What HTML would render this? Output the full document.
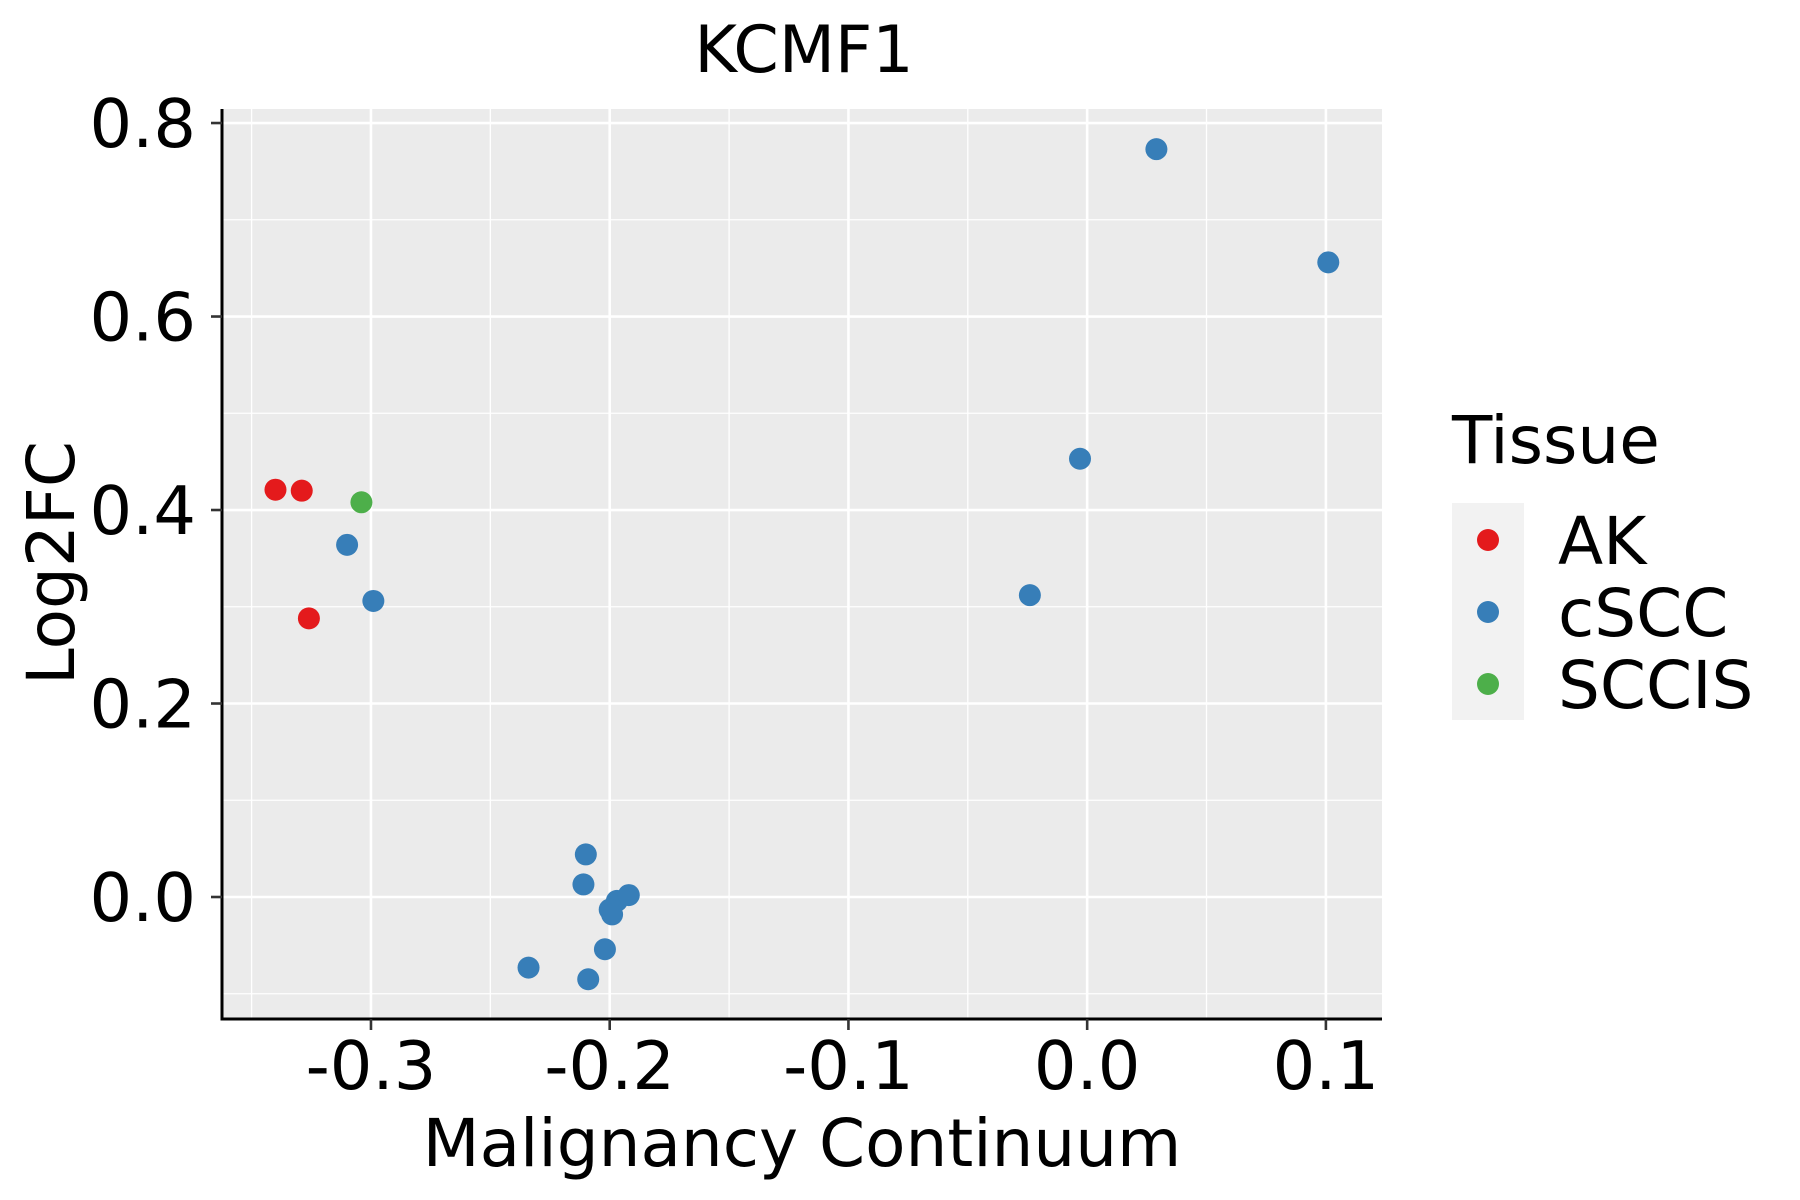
<!DOCTYPE html>
<html><head><meta charset="utf-8"><style>
body{margin:0;background:#fff;}
svg{display:block;font-family:"DejaVu Sans","Liberation Sans",sans-serif;}
</style></head><body>
<svg id="chart" width="1800" height="1200" viewBox="0 0 1800 1200">
<rect x="0" y="0" width="1800" height="1200" fill="#fff"/>
<g id="panel"></g>
<g id="points"></g>
<g id="axes"></g>
<text x="804" y="72" font-size="65" text-anchor="middle">KCMF1</text>
<text x="802" y="1166" font-size="66" text-anchor="middle">Malignancy Continuum</text>
<text transform="translate(74,563) rotate(-90)" font-size="66" text-anchor="middle">Log2FC</text>
<g>
<text x="1452" y="463" font-size="66">Tissue</text>
<rect x="1452" y="503" width="72" height="217" fill="#F2F2F2"/>
<g id="legend-items"></g>
</g>
</svg>
<script>
const categories = ["AK","cSCC","SCCIS"];
const colors = ["#E41A1C","#377EB8","#4DAF4A"];
const xValues = [-0.340,-0.329,-0.326,-0.304,-0.310,-0.299,0.029,0.101,-0.003,-0.024,-0.210,-0.211,-0.197,-0.192,-0.200,-0.199,-0.202,-0.234,-0.209];
const yValues = [0.421,0.420,0.288,0.408,0.364,0.306,0.773,0.656,0.453,0.312,0.044,0.013,-0.004,0.002,-0.013,-0.018,-0.054,-0.073,-0.085];
const groups = ["AK","AK","AK","SCCIS","cSCC","cSCC","cSCC","cSCC","cSCC","cSCC","cSCC","cSCC","cSCC","cSCC","cSCC","cSCC","cSCC","cSCC","cSCC"];
const xTicks = [-0.3,-0.2,-0.1,0.0,0.1];
const xTickLabels = ["-0.3","-0.2","-0.1","0.0","0.1"];
const yTicks = [0.0,0.2,0.4,0.6,0.8];
const yTickLabels = ["0.0","0.2","0.4","0.6","0.8"];
const xMinor = [-0.35,-0.25,-0.15,-0.05,0.05];
const yMinor = [-0.1,0.1,0.3,0.5,0.7];

const L=222,R=1382,T=109,B=1019;
const xMin=-0.3624,xMax=0.1235,yMin=-0.1261,yMax=0.8145;
const sx=v=>L+(v-xMin)/(xMax-xMin)*(R-L);
const sy=v=>B-(v-yMin)/(yMax-yMin)*(B-T);
const NS="http://www.w3.org/2000/svg";
function mk(tag,attrs,parent){const e=document.createElementNS(NS,tag);for(const k in attrs)e.setAttribute(k,attrs[k]);parent.appendChild(e);return e;}
const panel=document.getElementById('panel');
let bg=mk('rect',{x:L,y:T,width:R-L,height:B-T,fill:'#EBEBEB'},panel);


xMinor.forEach(v=>{const l=mk('line',{x1:sx(v),x2:sx(v),y1:T,y2:B,stroke:'#fff','stroke-width':1.3},panel);

});
yMinor.forEach(v=>{const l=mk('line',{x1:L,x2:R,y1:sy(v),y2:sy(v),stroke:'#fff','stroke-width':1.3},panel);

});
xTicks.forEach(v=>{const l=mk('line',{x1:sx(v),x2:sx(v),y1:T,y2:B,stroke:'#fff','stroke-width':2.6},panel);

});
yTicks.forEach(v=>{const l=mk('line',{x1:L,x2:R,y1:sy(v),y2:sy(v),stroke:'#fff','stroke-width':2.6},panel);

});
const pts=document.getElementById('points');
xValues.forEach((x,i)=>{const c=mk('circle',{cx:sx(x),cy:sy(yValues[i]),r:11,fill:colors[categories.indexOf(groups[i])]},pts);

});
const ax=document.getElementById('axes');
let a1=mk('line',{x1:L,x2:L,y1:T,y2:B+1.5,stroke:'#000','stroke-width':3},ax);


let a2=mk('line',{x1:L-1.5,x2:R,y1:B,y2:B,stroke:'#000','stroke-width':3},ax);


xTicks.forEach((v,i)=>{const t=mk('line',{x1:sx(v),x2:sx(v),y1:B,y2:B+11,stroke:'#333','stroke-width':2.6},ax);


const s=mk('text',{x:sx(v),y:B+70,'font-size':67,'text-anchor':'middle'},ax);s.textContent=xTickLabels[i];

});
yTicks.forEach((v,i)=>{const t=mk('line',{x1:L-11,x2:L,y1:sy(v),y2:sy(v),stroke:'#333','stroke-width':2.6},ax);


const s=mk('text',{x:L-26,y:sy(v)+24,'font-size':67,'text-anchor':'end'},ax);s.textContent=yTickLabels[i];

});
const li=document.getElementById('legend-items');
categories.forEach((c,i)=>{const y=540+i*72;
const d=mk('circle',{cx:1488,cy:y,r:11,fill:colors[i]},li);


const t=mk('text',{x:1558,y:y+24,'font-size':66},li);t.textContent=c;

});
</script>
</body></html>
